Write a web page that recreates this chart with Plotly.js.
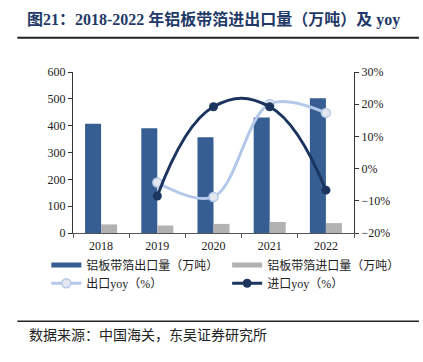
<!DOCTYPE html>
<html>
<head>
<meta charset="utf-8">
<script src="https://cdn.plot.ly/plotly-3.0.1.min.js"></script>
<style>html,body{margin:0;padding:0;background:#fff;}#chart{width:423px;height:362px;}</style>
</head>
<body>
<div id="chart"></div>
<script>
const years = ['2018', '2019', '2020', '2021', '2022'];
const exportVolume = [407, 390, 357, 430, 502];
const importVolume = [32, 28, 34, 41, 37];
const exportYoy = [null, -0.043, -0.088, 0.201, 0.173];
const importYoy = [null, -0.085, 0.192, 0.192, -0.067];

const titleText = '图21：2018-2022 年铝板带箔进出口量（万吨）及 yoy';
const sourceText = '数据来源：中国海关，东吴证券研究所';
const nameExport = '铝板带箔出口量（万吨）';
const nameImport = '铝板带箔进口量（万吨）';
const nameExportYoy = '出口yoy（%）';
const nameImportYoy = '进口yoy（%）';

const FONT = "'Liberation Serif', 'Noto Sans CJK SC', serif";
const cExport = '#365E92';
const cImport = '#B2B2B2';
const cExpYoy = '#B4C8EA';
const cImpYoy = '#1B355F';

const traces = [
  {type: 'bar', x: years, y: exportVolume, name: nameExport, marker: {color: cExport}, showlegend: false, hoverinfo: 'y'},
  {type: 'bar', x: years, y: importVolume, name: nameImport, marker: {color: cImport}, showlegend: false, hoverinfo: 'y'},
  {type: 'scatter', mode: 'lines', x: [null], y: [null], name: nameExport, line: {color: cExport, width: 5}, legend: 'legend'},
  {type: 'scatter', mode: 'lines', x: [null], y: [null], name: nameImport, line: {color: cImport, width: 5}, legend: 'legend2'},
  {type: 'scatter', mode: 'lines+markers', x: years, y: exportYoy, yaxis: 'y2', name: nameExportYoy, legend: 'legend3',
   line: {color: cExpYoy, width: 3, shape: 'spline', smoothing: 1},
   marker: {size: 9, color: '#E4E7EE', line: {color: cExpYoy, width: 1.5}}},
  {type: 'scatter', mode: 'lines+markers', x: years, y: importYoy, yaxis: 'y2', name: nameImportYoy, legend: 'legend4',
   line: {color: cImpYoy, width: 3, shape: 'spline', smoothing: 1.25},
   marker: {size: 9, color: cImpYoy}}
];

const PX = v => (v - 72.7) / 281.3;
const PY = v => (233.5 - v) / 161.8;
function leg(xpx, ypx) {
  return {orientation: 'v', x: PX(xpx), xanchor: 'left', y: PY(ypx), yanchor: 'middle',
          itemwidth: 30, font: {family: FONT, size: 12, color: '#222'}, bgcolor: 'rgba(0,0,0,0)'};
}

const layout = {
  width: 423, height: 362,
  margin: {l: 72.7, r: 69, t: 71.7, b: 128.5},
  paper_bgcolor: '#fff', plot_bgcolor: '#fff',
  font: {family: FONT, size: 12, color: '#222'},
  barmode: 'group', bargap: 0.43, bargroupgap: 0,
  title: {text: titleText, font: {family: FONT, size: 16, color: '#1F3A68', weight: 'bold'},
          xref: 'container', yref: 'container', x: 27/423, xanchor: 'left', y: 1 - 19/362, yanchor: 'middle'},
  xaxis: {type: 'category', tickson: 'boundaries', ticks: 'outside', ticklen: 4, tickcolor: '#555',
          showline: true, linecolor: '#555', linewidth: 1, showgrid: false, zeroline: false,
          ticklabelstandoff: 2, tickfont: {family: FONT, size: 12, color: '#222'}},
  yaxis: {range: [0, 600], dtick: 100, ticks: 'outside', ticklen: 4, tickcolor: '#333',
          showline: true, linecolor: '#333', linewidth: 1, showgrid: false, zeroline: false,
          tickfont: {family: FONT, size: 12, color: '#222'}},
  yaxis2: {overlaying: 'y', side: 'right', range: [-0.2, 0.3], dtick: 0.1, tickformat: '.0%',
           ticks: 'outside', ticklen: 4, tickcolor: '#333', showline: true, linecolor: '#333', linewidth: 1,
           showgrid: false, zeroline: false, tickfont: {family: FONT, size: 12, color: '#222'}},
  legend: leg(46, 265.7),
  legend2: leg(227, 265.7),
  legend3: leg(46, 284),
  legend4: leg(227, 284),
  shapes: [
    {type: 'line', xref: 'paper', yref: 'paper', x0: PX(17), x1: PX(419),
     y0: PY(37.3), y1: PY(37.3), line: {color: '#222', width: 2}},
    {type: 'line', xref: 'paper', yref: 'paper', x0: PX(17), x1: PX(419),
     y0: PY(322.3), y1: PY(322.3), line: {color: '#222', width: 1.5}}
  ],
  annotations: [
    {text: sourceText, xref: 'paper', yref: 'paper', x: PX(27), xanchor: 'left',
     y: PY(337), yanchor: 'middle', showarrow: false,
     font: {family: FONT, size: 14, color: '#222'}}
  ]
};

Plotly.newPlot('chart', traces, layout, {staticPlot: true, displayModeBar: false});
</script>
</body>
</html>
